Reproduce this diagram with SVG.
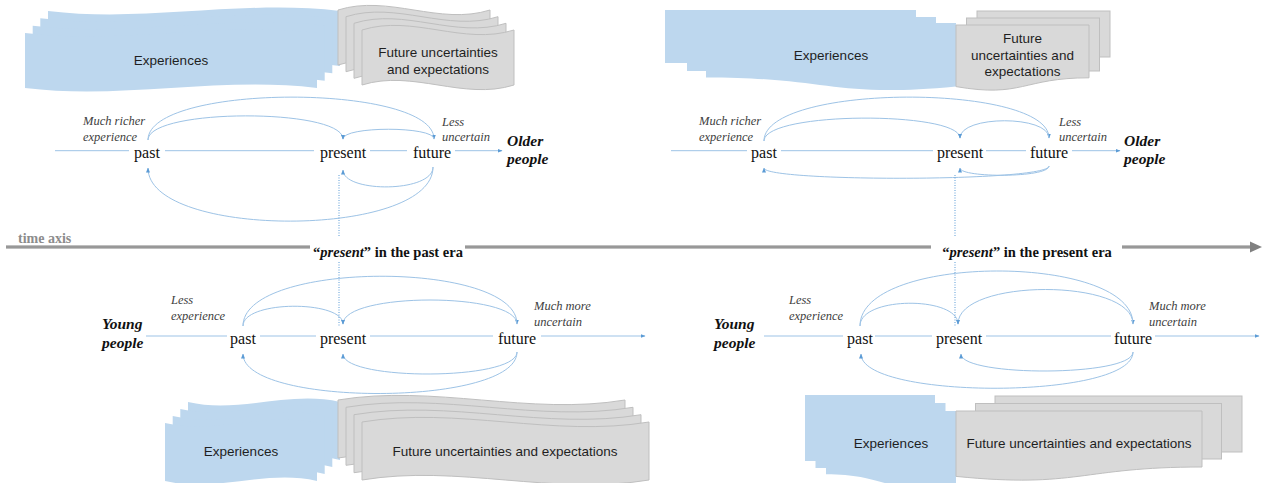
<svg xmlns="http://www.w3.org/2000/svg" width="1262" height="483" viewBox="0 0 1262 483">
  <defs>
    <marker id="ah" viewBox="0 0 10 10" refX="9" refY="5" markerWidth="5" markerHeight="5" markerUnits="userSpaceOnUse" orient="auto">
      <path d="M0,1 L10,5 L0,9 Z" fill="#5b9bd5"/>
    </marker>
    <style>
      .blue { fill: #bdd7ee; }
      .gray { fill: #d9d9d9; stroke: #bfbfbf; stroke-width: 1; }
      .box { font-family: "Liberation Sans", Arial, sans-serif; font-size: 13.5px; fill: #1f1f1f; text-anchor: middle; }
      .arc { fill: none; stroke: #9dc3e6; stroke-width: 1; marker-end: url(#ah); }
      .ax { fill: none; stroke: #9dc3e6; stroke-width: 1; }
      .axe { fill: none; stroke: #9dc3e6; stroke-width: 1; marker-end: url(#ah); }
      .word { font-family: "Liberation Serif", "Times New Roman", serif; font-size: 16px; fill: #111; text-anchor: middle; }
      .note { font-family: "Liberation Serif", "Times New Roman", serif; font-style: italic; font-size: 12.5px; fill: #404040; }
      .who { font-family: "Liberation Serif", "Times New Roman", serif; font-style: italic; font-weight: bold; font-size: 15.5px; fill: #111; }
      .dot { fill: none; stroke: #5b9bd5; stroke-width: 1; stroke-dasharray: 1 1.5; }
      .time { fill: none; stroke: #808080; stroke-width: 3; }
      .time-core { fill: none; stroke: #b0b0b0; stroke-width: 1; }
      .era { font-family: "Liberation Serif", "Times New Roman", serif; font-weight: bold; font-size: 14.5px; fill: #111; text-anchor: middle; }
      .tlab { font-family: "Liberation Serif", "Times New Roman", serif; font-weight: bold; font-size: 14px; fill: #8c8c8c; }
    </style>
  </defs>

  <!-- Experience / expectation stacks: older people, past era -->
  <g id="stack-older-past">
    <path class="blue" d="M48,11 C145.3,23 242.7,-1 340,11 L340,66 C242.7,54 145.3,78 48,66 Z"/>
    <path class="blue" d="M40.3,18.3 C137.6,30.3 235,6.3 332.3,18.3 L332.3,73.3 C235,61.3 137.6,85.3 40.3,73.3 Z"/>
    <path class="blue" d="M32.7,25.7 C130,37.7 227.3,13.7 324.7,25.7 L324.7,80.7 C227.3,68.7 130,92.7 32.7,80.7 Z"/>
    <path class="blue" d="M25,33 C122.3,45 219.7,21 317,33 L317,88 C219.7,76 122.3,100 25,88 Z"/>
    <text class="box" x="171" y="65">Experiences</text>
    <path class="gray" d="M338,10 C388.7,-6 439.3,26 490,10 L490,65 C439.3,81 388.7,49 338,65 Z"/>
    <path class="gray" d="M346,16.7 C396.7,0.7 447.3,32.7 498,16.7 L498,71.7 C447.3,87.7 396.7,55.7 346,71.7 Z"/>
    <path class="gray" d="M354,23.3 C404.7,7.3 455.3,39.3 506,23.3 L506,78.3 C455.3,94.3 404.7,62.3 354,78.3 Z"/>
    <path class="gray" d="M362,30 C412.7,14 463.3,46 514,30 L514,85 C463.3,101 412.7,69 362,85 Z"/>
    <text class="box" x="438" y="57">Future uncertainties</text>
    <text class="box" x="438" y="74">and expectations</text>
  </g>

  <!-- Experience / expectation stacks: older people, present era -->
  <g id="stack-older-present">
    <rect class="blue" x="665" y="10" width="251" height="53"/>
    <rect class="blue" x="687" y="17" width="249" height="54"/>
    <path class="blue" d="M706,23 H956 V86.5 C831,98.3 831,77.4 706,77.4 Z"/>
    <text class="box" x="831" y="60">Experiences</text>
    <rect class="gray" x="977" y="11" width="133" height="46"/>
    <rect class="gray" x="966.5" y="18" width="133" height="53"/>
    <path class="gray" d="M956,25 H1089 V77.8 C1022.5,77.8 1022.5,98.1 956,86.6 Z"/>
    <text class="box" x="1022.5" y="43">Future</text>
    <text class="box" x="1022.5" y="59.5">uncertainties and</text>
    <text class="box" x="1022.5" y="76">expectations</text>
  </g>

  <!-- Experience / expectation stacks: young people, past era -->
  <g id="stack-young-past">
    <path class="blue" d="M188,402 C238.7,414 289.3,390 340,402 L340,460 C289.3,448 238.7,472 188,460 Z"/>
    <path class="blue" d="M180.3,409 C231,421 281.7,397 332.3,409 L332.3,467 C281.7,455 231,479 180.3,467 Z"/>
    <path class="blue" d="M172.7,416 C223.3,428 274,404 324.7,416 L324.7,474 C274,462 223.3,486 172.7,474 Z"/>
    <path class="blue" d="M165,423 C215.7,435 266.3,411 317,423 L317,481 C266.3,469 215.7,493 165,481 Z"/>
    <text class="box" x="241" y="456">Experiences</text>
    <path class="gray" d="M338,400 C433.7,384 529.3,416 625,400 L625,458 C529.3,474 433.7,442 338,458 Z"/>
    <path class="gray" d="M346,407.3 C441.7,391.3 537.3,423.3 633,407.3 L633,465.3 C537.3,481.3 441.7,449.3 346,465.3 Z"/>
    <path class="gray" d="M354,414.7 C449.7,398.7 545.3,430.7 641,414.7 L641,472.7 C545.3,488.7 449.7,456.7 354,472.7 Z"/>
    <path class="gray" d="M362,422 C457.7,406 553.3,438 649,422 L649,480 C553.3,496 457.7,464 362,480 Z"/>
    <text class="box" x="505" y="456">Future uncertainties and expectations</text>
  </g>

  <!-- Experience / expectation stacks: young people, present era -->
  <g id="stack-young-present">
    <rect class="blue" x="805" y="395" width="130" height="66"/>
    <rect class="blue" x="815.5" y="403" width="130" height="65"/>
    <path class="blue" d="M826,411 H956 V485 C891,498.7 891,474.2 826,474.2 Z"/>
    <text class="box" x="891" y="448">Experiences</text>
    <rect class="gray" x="995" y="396" width="247" height="56"/>
    <rect class="gray" x="975.5" y="403.5" width="246" height="55.5"/>
    <path class="gray" d="M956,411 H1202 V467 C1079,467 1079,488.6 956,476.4 Z"/>
    <text class="box" x="1079" y="448">Future uncertainties and expectations</text>
  </g>

  <!-- Connectors: local time lines, loops between past/present/future, era markers -->
  <g id="connectors">
    <!-- older people, past era -->
    <path class="ax" d="M55,150.7 H129 M165,150.7 H314 M370,150.7 H407"/>
    <path class="axe" d="M455,150.7 H502"/>
    <path class="arc" d="M148,140 C148,83 434,83 434,139"/>
    <path class="arc" d="M148,140 C148,108 343,108 343,139"/>
    <path class="arc" d="M434,139 C434,126 343,126 343,139"/>
    <path class="arc" d="M433,167 C433,193 343,193 343,170"/>
    <path class="arc" d="M433,167 C433,239 148,239 148,168"/>

    <!-- older people, present era -->
    <path class="ax" d="M671,150.7 H747 M781,150.7 H933 M986,150.7 H1026"/>
    <path class="axe" d="M1072,150.7 H1120"/>
    <path class="arc" d="M764,141 C764,83 1049,83 1049,138"/>
    <path class="arc" d="M764,141 C764,111 960,111 960,138"/>
    <path class="arc" d="M1049,138 C1049,115 960,115 960,138"/>
    <path class="arc" d="M1049,166 C1049,178 960,178 960,168"/>
    <path class="arc" d="M1049,166 C1049,182 764,182 764,168"/>

    <!-- young people, past era -->
    <path class="ax" d="M146,336 H227 M260,336 H316 M370,336 H493"/>
    <path class="axe" d="M541,336 H645"/>
    <path class="arc" d="M243,326 C243,260 517,260 517,324"/>
    <path class="arc" d="M243,326 C243,300 343,300 343,324"/>
    <path class="arc" d="M517,324 C517,292 343,292 343,324"/>
    <path class="arc" d="M517,352 C517,381 343,381 343,354"/>
    <path class="arc" d="M517,352 C517,407 243,407 243,354"/>

    <!-- young people, present era -->
    <path class="ax" d="M764,336 H843 M875,336 H932 M986,336 H1111"/>
    <path class="axe" d="M1155,336 H1259"/>
    <path class="arc" d="M860,326 C860,253 1133,253 1133,324"/>
    <path class="arc" d="M860,326 C860,296 958,296 958,324"/>
    <path class="arc" d="M1133,324 C1133,278 958,278 958,324"/>
    <path class="arc" d="M1133,352 C1133,377 961,377 961,354"/>
    <path class="arc" d="M1133,352 C1133,400 861,400 861,354"/>

    <!-- era markers through the time axis -->
    <path class="dot" d="M339,175 V236 M339,262 V326"/>
    <path class="dot" d="M955,175 V236 M955,262 V326"/>

    <!-- time axis -->
    <path class="time" d="M6,247 H310 M465,247 H931 M1122,247 H1252"/>
    <path class="time-core" d="M6,247 H310 M465,247 H931 M1122,247 H1252"/>
    <path d="M1250,241.5 L1262,247 L1250,252.5 Z" fill="#808080"/>
  </g>

  <!-- Time axis labels -->
  <g id="time-axis">
    <text class="tlab" x="18" y="243">time axis</text>
    <text class="era" x="388" y="257">“<tspan font-style="italic">present</tspan>” in the past era</text>
    <text class="era" x="1027" y="257">“<tspan font-style="italic">present</tspan>” in the present era</text>
  </g>

  <!-- Older people, past era -->
  <g id="older-past">
    <text class="word" x="147" y="158">past</text>
    <text class="word" x="343" y="158">present</text>
    <text class="word" x="432" y="158">future</text>
    <text class="note" x="83" y="125">Much richer</text>
    <text class="note" x="83" y="140.5">experience</text>
    <text class="note" x="442" y="125.5">Less</text>
    <text class="note" x="442" y="140.5">uncertain</text>
    <text class="who" x="507" y="146">Older</text>
    <text class="who" x="507" y="164">people</text>
  </g>

  <!-- Older people, present era -->
  <g id="older-present">
    <text class="word" x="764" y="158">past</text>
    <text class="word" x="960" y="158">present</text>
    <text class="word" x="1049" y="158">future</text>
    <text class="note" x="699" y="125">Much richer</text>
    <text class="note" x="699" y="140.5">experience</text>
    <text class="note" x="1059" y="125.5">Less</text>
    <text class="note" x="1059" y="140.5">uncertain</text>
    <text class="who" x="1124" y="146">Older</text>
    <text class="who" x="1124" y="164">people</text>
  </g>

  <!-- Young people, past era -->
  <g id="young-past">
    <text class="word" x="243" y="344">past</text>
    <text class="word" x="343" y="344">present</text>
    <text class="word" x="517" y="344">future</text>
    <text class="note" x="171" y="304">Less</text>
    <text class="note" x="171" y="320">experience</text>
    <text class="note" x="534" y="310">Much more</text>
    <text class="note" x="534" y="326">uncertain</text>
    <text class="who" x="102" y="329">Young</text>
    <text class="who" x="102" y="347.5">people</text>
  </g>

  <!-- Young people, present era -->
  <g id="young-present">
    <text class="word" x="860" y="344">past</text>
    <text class="word" x="959" y="344">present</text>
    <text class="word" x="1133" y="344">future</text>
    <text class="note" x="789" y="304">Less</text>
    <text class="note" x="789" y="320">experience</text>
    <text class="note" x="1149" y="310">Much more</text>
    <text class="note" x="1149" y="326">uncertain</text>
    <text class="who" x="714" y="329">Young</text>
    <text class="who" x="714" y="347.5">people</text>
  </g>
</svg>
